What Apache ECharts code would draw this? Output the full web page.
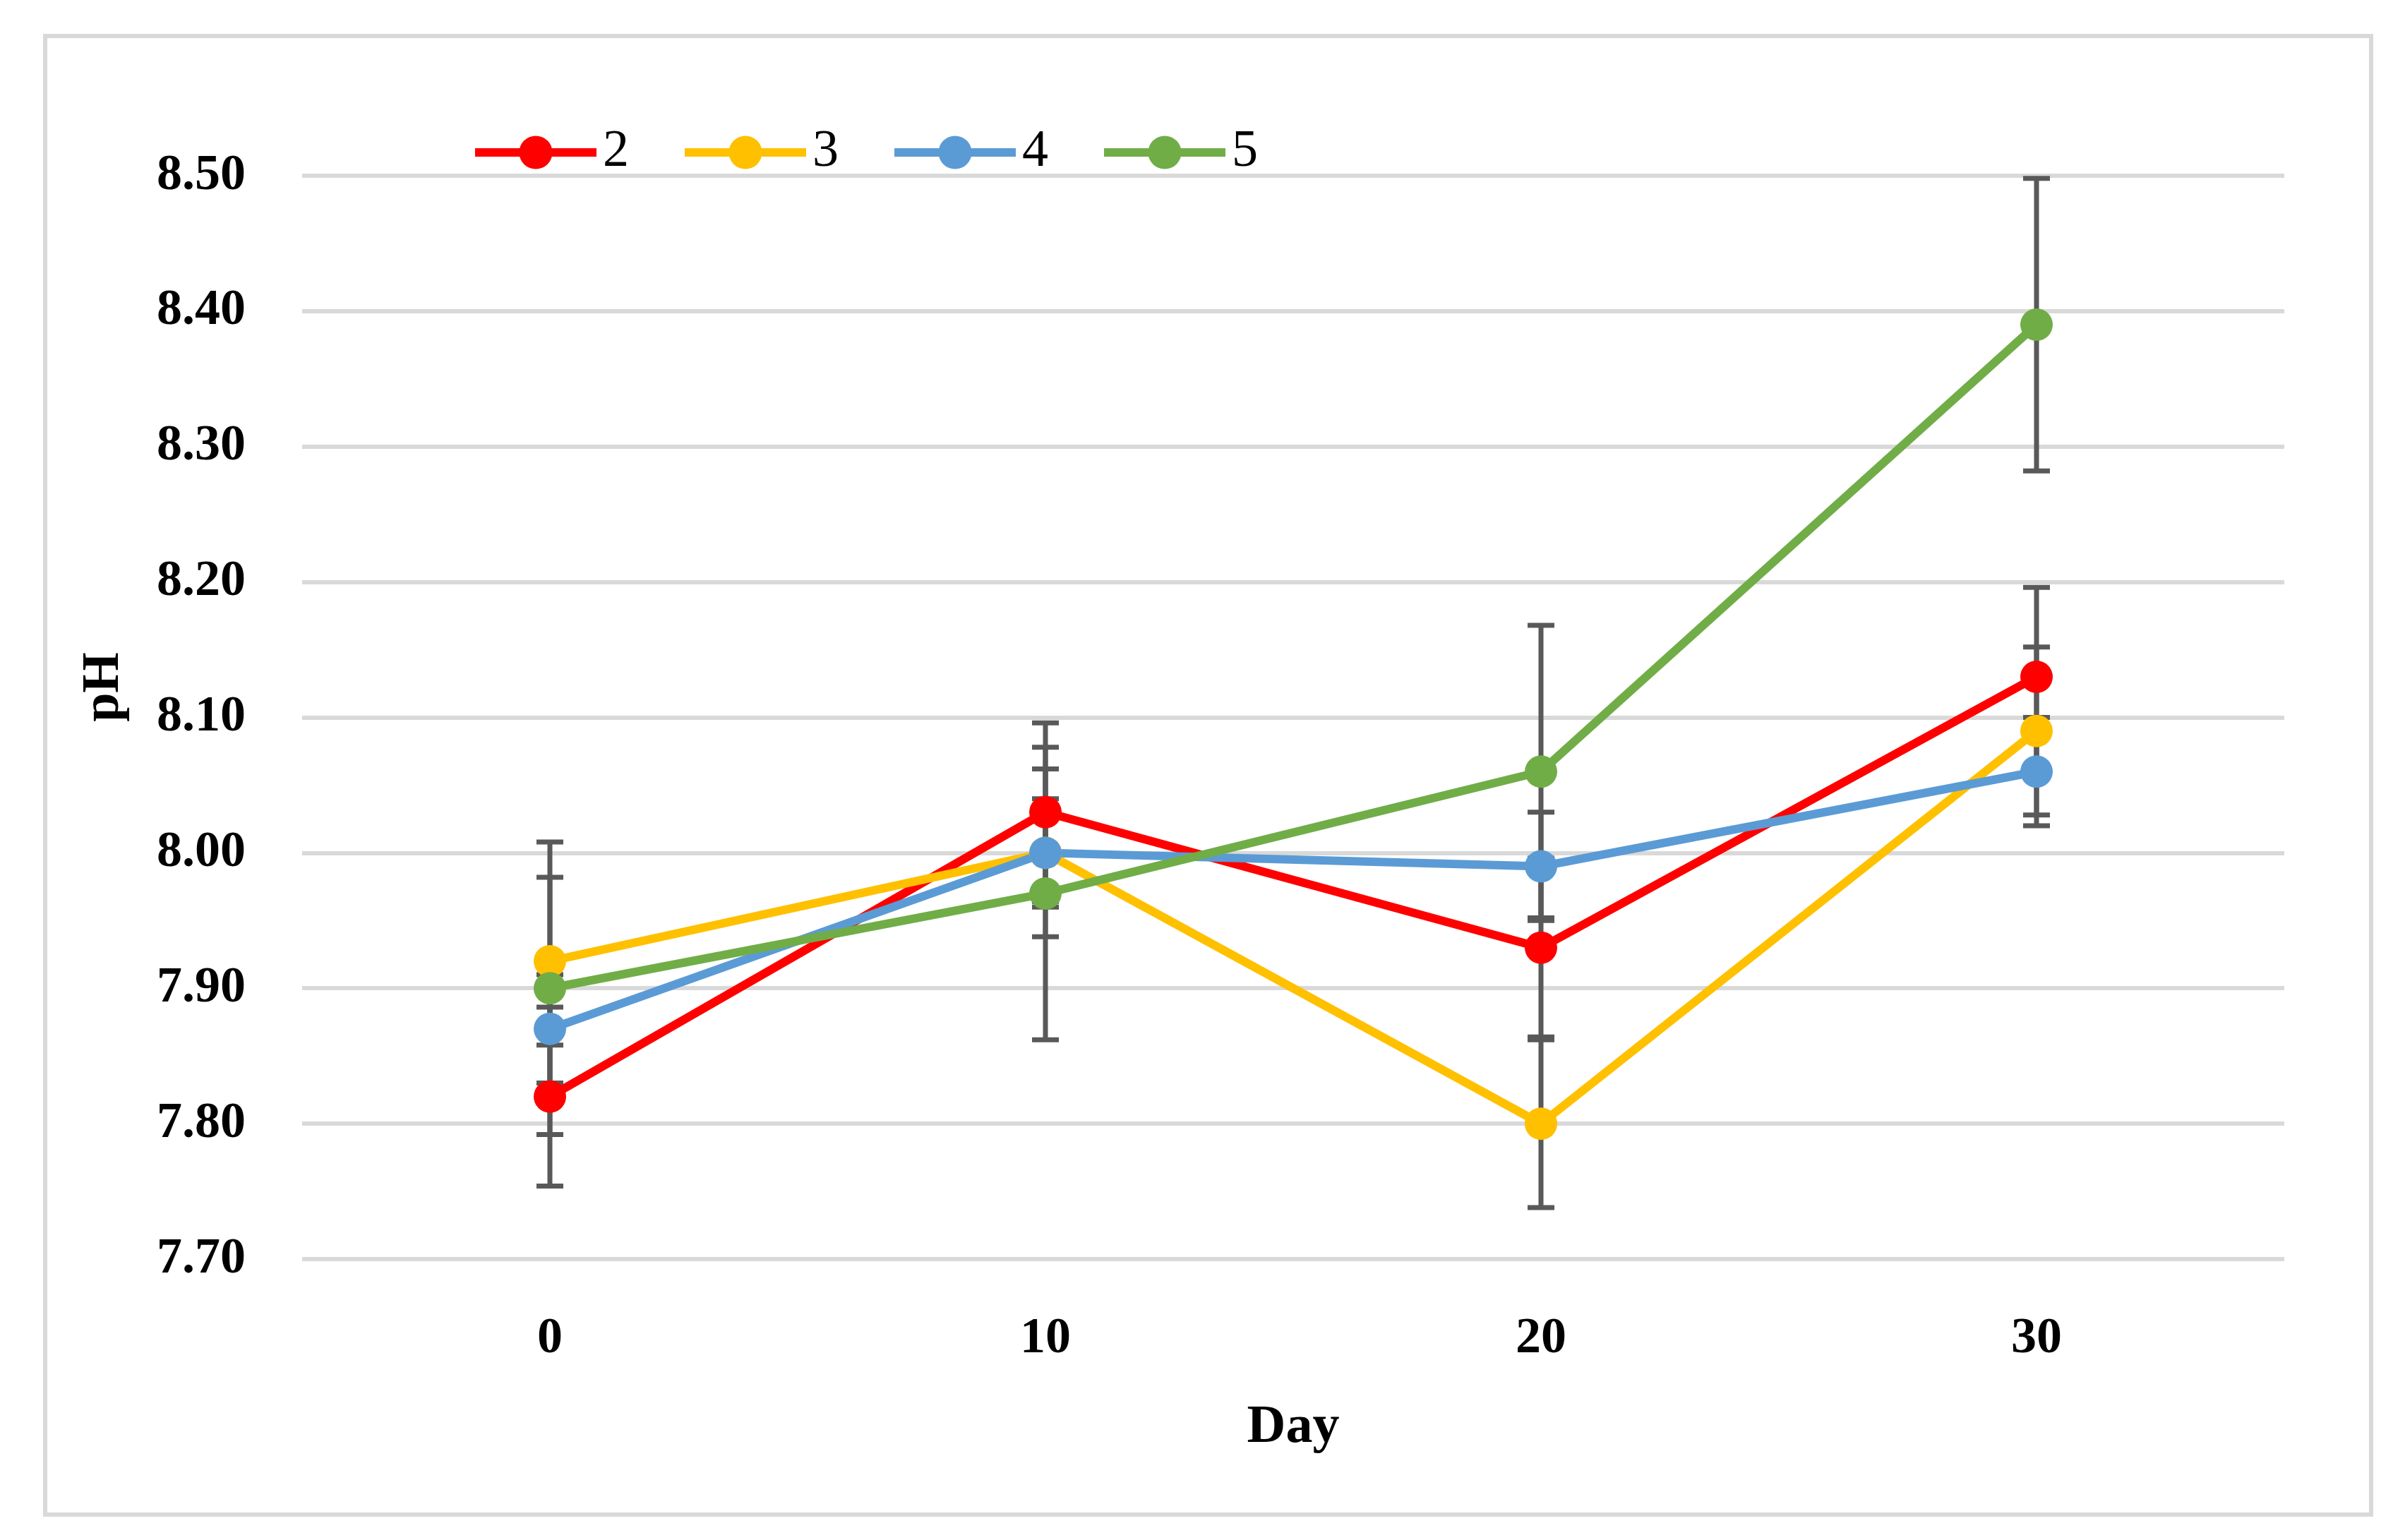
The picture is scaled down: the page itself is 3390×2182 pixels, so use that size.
<!DOCTYPE html>
<html>
<head>
<meta charset="utf-8">
<script src="https://cdn.jsdelivr.net/npm/echarts@6/dist/echarts.min.js"></script>
<style>
html,body{margin:0;padding:0;background:#fff;}
#c{width:3390px;height:2182px;}
</style>
</head>
<body>
<div id="c"></div>
<script>
const days = ['0', '10', '20', '30'];
const yTicks = [7.70, 7.80, 7.90, 8.00, 8.10, 8.20, 8.30, 8.40, 8.50];
const seriesNames = ['2', '3', '4', '5'];
const s2 = [7.82, 8.03, 7.93, 8.13];
const s3 = [7.92, 8.00, 7.80, 8.09];
const s4 = [7.87, 8.00, 7.99, 8.06];
const s5 = [7.90, 7.97, 8.06, 8.39];
const e2 = [0.066, 0.066, 0.066, 0.066];
const e3 = [0.062, 0.062, 0.062, 0.062];
const e4 = [0.040, 0.040, 0.040, 0.040];
const e5 = [0.108, 0.108, 0.108, 0.108];
const colors = ['#FF0000', '#FFC000', '#5B9BD5', '#70AD47'];

const values = [s2, s3, s4, s5];
const errors = [e2, e3, e4, e5];
const FONT = '"Liberation Serif", "DejaVu Serif", serif';

const chart = echarts.init(document.getElementById('c'), null, {renderer: 'canvas'});

const lineSeries = values.map((vals, i) => ({
  name: seriesNames[i],
  type: 'line',
  data: vals,
  symbol: 'circle',
  symbolSize: 46,
  z: 3,
  lineStyle: {width: 12, color: colors[i]},
  itemStyle: {color: colors[i], borderWidth: 0},
  emphasis: {disabled: true}
}));

const errSeries = values.map((vals, i) => ({
  name: 'err' + seriesNames[i],
  type: 'custom',
  z: 2,
  silent: true,
  data: vals.map((v, j) => [j, v, errors[i][j]]),
  encode: {x: 0, y: 1},
  renderItem: function (params, api) {
    const x = api.value(0);
    const v = api.value(1);
    const e = api.value(2);
    const top = api.coord([x, v + e]);
    const bot = api.coord([x, v - e]);
    const hw = 19;
    const st = {stroke: '#595959', lineWidth: 7};
    return {
      type: 'group',
      children: [
        {type: 'line', shape: {x1: top[0], y1: top[1], x2: bot[0], y2: bot[1]}, style: st},
        {type: 'line', shape: {x1: top[0] - hw, y1: top[1], x2: top[0] + hw, y2: top[1]}, style: st},
        {type: 'line', shape: {x1: bot[0] - hw, y1: bot[1], x2: bot[0] + hw, y2: bot[1]}, style: st}
      ]
    };
  }
}));

const option = {
  backgroundColor: '#ffffff',
  animation: false,
  graphic: [{
    type: 'rect',
    left: 61, top: 48,
    shape: {width: 3295, height: 2095},
    style: {fill: 'none', stroke: '#D9D9D9', lineWidth: 6},
    silent: true
  }],
  legend: {
    data: seriesNames,
    left: 662,
    top: 174,
    itemWidth: 172,
    itemHeight: 59,
    itemGap: 73,
    lineStyle: {width: 12},
    textStyle: {fontFamily: FONT, fontSize: 74, color: '#000', padding: [0, 0, 0, 4]}
  },
  grid: {left: 428, right: 154, top: 249, bottom: 398, containLabel: false},
  xAxis: {
    type: 'category',
    data: days,
    boundaryGap: true,
    name: 'Day',
    nameLocation: 'middle',
    nameGap: 201,
    nameTextStyle: {fontFamily: FONT, fontSize: 76, fontWeight: 'bold', color: '#000'},
    axisLine: {show: false},
    axisTick: {show: false},
    axisLabel: {fontFamily: FONT, fontSize: 72, fontWeight: 'bold', color: '#000', margin: 77},
    splitLine: {show: false}
  },
  yAxis: {
    type: 'value',
    min: yTicks[0],
    max: yTicks[yTicks.length - 1],
    interval: 0.1,
    name: 'pH',
    nameLocation: 'middle',
    nameGap: 243,
    nameTextStyle: {fontFamily: FONT, fontSize: 74, fontWeight: 'bold', color: '#000', padding: [0, 0, 0, 86]},
    axisLine: {show: false},
    axisTick: {show: false},
    axisLabel: {
      fontFamily: FONT, fontSize: 72, fontWeight: 'bold', color: '#000', margin: 80,
      formatter: v => Number(v).toFixed(2)
    },
    splitLine: {show: true, lineStyle: {color: '#D9D9D9', width: 6}}
  },
  series: errSeries.concat(lineSeries)
};
chart.setOption(option);
</script>
</body>
</html>
